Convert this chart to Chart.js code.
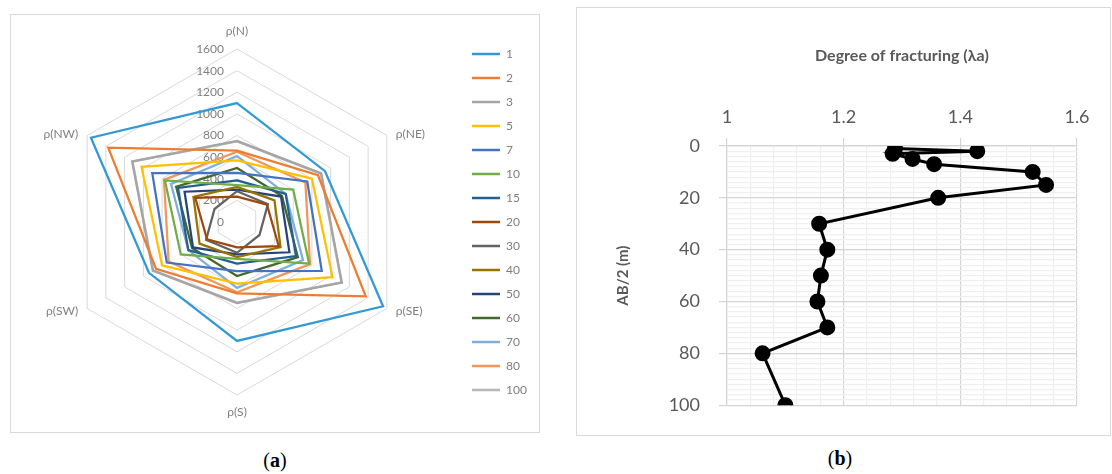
<!DOCTYPE html>
<html>
<head>
<meta charset="utf-8">
<script src="https://cdn.jsdelivr.net/npm/chart.js@4.4.0/dist/chart.umd.min.js"></script>
<style>
    body { margin: 0; width: 1112px; height: 474px; background: #fff; position: relative; overflow: hidden; }
    .panel { position: absolute; box-sizing: border-box; border: 1px solid #d9d9d9; background: #fff; }
    canvas { display: block; position: absolute; }
    .caption { position: absolute; font-family: 'Liberation Serif', serif; font-size: 20px; color: #000; transform: translateX(-50%); }
</style>
</head>
<body>
<div class="panel" style="left:10px; top:14px; width:530px; height:419px;"></div>
<div class="panel" style="left:576px; top:7px; width:535px; height:429px;"></div>
<!-- canvases are transparent, they sit over the panel frames -->
<canvas id="radarChart" width="515" height="446" style="left:15px; top:-1px;"></canvas>
<canvas id="fractureChart" width="533" height="427" style="left:577px; top:8px;"></canvas>
<div class="caption" style="left:275px; top:449px;">(<b>a</b>)</div>
<div class="caption" style="left:840px; top:447px;">(<b>b</b>)</div>

<script>
// Radar axes (azimuth of the measurement)
const directions = ['ρ(N)', 'ρ(NE)', 'ρ(SE)', 'ρ(S)', 'ρ(SW)', 'ρ(NW)'];

// Apparent resistivity per AB/2 spacing, order: N, NE, SE, S, SW, NW
const rho_1 = [1100, 940, 1560, 1100, 940, 1560];
const rho_2 = [660, 865, 1375, 660, 865, 1375];
const rho_3 = [750, 900, 1120, 750, 900, 1120];
const rho_5 = [570, 800, 1020, 570, 800, 1020];
const rho_7 = [455, 750, 905, 455, 750, 905];
const rho_10 = [340, 600, 770, 340, 600, 770];
const rho_15 = [385, 520, 630, 385, 520, 630];
const rho_20 = [235, 320, 445, 235, 320, 445];
const rho_30 = [285, 330, 240, 285, 330, 240];
const rho_40 = [325, 400, 465, 325, 400, 465];
const rho_50 = [300, 470, 560, 300, 470, 560];
const rho_60 = [500, 480, 650, 500, 480, 650];
const rho_70 = [610, 520, 705, 610, 520, 705];
const rho_80 = [650, 730, 780, 650, 730, 780];
const rho_100 = [745, 895, 1115, 745, 895, 1115];

const spacingLabels = ['1', '2', '3', '5', '7', '10', '15', '20', '30', '40', '50', '60', '70', '80', '100'];
const rhoSeries = [rho_1, rho_2, rho_3, rho_5, rho_7, rho_10, rho_15, rho_20, rho_30, rho_40, rho_50, rho_60, rho_70, rho_80, rho_100];
const seriesColors = [
    '#3399d6', '#ed7d31', '#a5a5a5', '#ffc000', '#4472c4', '#70ad47', '#255e91', '#9e480e',
    '#636363', '#997300', '#264478', '#43682b', '#7cafdd', '#f1975a', '#b7b7b7'
];

// Degree of fracturing vs AB/2
const depth = [1, 2, 3, 5, 7, 10, 15, 20, 30, 40, 50, 60, 70, 80, 100];
const lambdaA = [1.288, 1.429, 1.284, 1.318, 1.355, 1.524, 1.547, 1.362, 1.158, 1.172, 1.161, 1.155, 1.172, 1.061, 1.100];

const radarFont = 'Lato, "Open Sans", sans-serif';
const textGray = '#7f7f7f';

// tick values and direction names drawn next to the axes, like the spreadsheet output
const radarText = {
    id: 'radarText',
    beforeDatasetsDraw(chart) {
        const r = chart.scales.r;
        const ctx = chart.ctx;
        ctx.save();
        ctx.font = '12px ' + radarFont;
        ctx.fillStyle = textGray;
        ctx.textBaseline = 'middle';
        ctx.textAlign = 'right';
        r.ticks.forEach(t => {
            const d = r.getDistanceFromCenterForValue(t.value);
            ctx.fillText(String(t.value), r.xCenter - 13, r.yCenter - d);
        });
        chart.data.labels.forEach((lab, i) => {
            const p = r.getPointPosition(i, r.drawingArea);
            let x = p.x, y = p.y;
            if (Math.abs(p.x - r.xCenter) < 1) {
                ctx.textAlign = 'center';
                y += (p.y < r.yCenter) ? -18 : 17;
            } else if (p.x > r.xCenter) {
                ctx.textAlign = 'left';
                x += 9;
                y += (p.y < r.yCenter) ? -1 : 3;
            } else {
                ctx.textAlign = 'right';
                x -= 9;
                y += (p.y < r.yCenter) ? -1 : 3;
            }
            ctx.fillText(lab, x, y);
        });
        ctx.restore();
    }
};

const radarDatasets = rhoSeries.map((vals, i) => ({
    label: spacingLabels[i],
    data: vals,
    borderColor: seriesColors[i],
    backgroundColor: 'transparent',
    borderWidth: 2.25,
    pointRadius: 0,
    pointHoverRadius: 0,
    pointBorderWidth: 2.5,
    pointBorderColor: seriesColors[i],
    fill: false,
}));

new Chart(document.getElementById('radarChart'), {
    type: 'radar',
    data: { labels: directions, datasets: radarDatasets },
    options: {
        responsive: false,
        animation: false,
        layout: { padding: 0 },
        elements: { line: { tension: 0 } },
        scales: {
            r: {
                min: 0,
                max: 1600,
                // labels are drawn by radarText; the empty backdrop only keeps the web at its size
                ticks: {
                    stepSize: 200,
                    color: 'rgba(0,0,0,0)',
                    font: { size: 12 },
                    showLabelBackdrop: true,
                    backdropColor: 'rgba(0,0,0,0)',
                    backdropPadding: 43.5,
                },
                grid: { color: '#d9d9d9', lineWidth: 1 },
                angleLines: { display: false },
                pointLabels: { display: false },
            },
        },
        plugins: {
            legend: {
                position: 'right',
                maxWidth: 70,
                labels: {
                    usePointStyle: true,
                    pointStyle: 'line',
                    pointStyleWidth: 28,
                    padding: 12,
                    color: textGray,
                    font: { size: 12, family: radarFont },
                },
            },
            tooltip: { enabled: false },
        },
    },
    plugins: [radarText],
});

// Degree of fracturing chart
const axisGray = '#595959';
const isMajorX = v => Math.abs(v * 5 - Math.round(v * 5)) < 1e-6;
const isMajorY = v => Math.abs(v % 20) < 1e-6;

new Chart(document.getElementById('fractureChart'), {
    type: 'scatter',
    data: {
        datasets: [{
            data: depth.map((d, i) => ({ x: lambdaA[i], y: d })),
            showLine: true,
            borderColor: '#000',
            backgroundColor: '#000',
            borderWidth: 3,
            pointRadius: 6.5,
            pointBackgroundColor: '#000',
            pointBorderColor: '#000',
        }],
    },
    options: {
        responsive: false,
        animation: false,
        layout: { padding: { left: 0, right: 33, top: 0, bottom: 29 } },
        scales: {
            x: {
                type: 'linear',
                position: 'top',
                min: 1,
                max: 1.6,
                afterFit: scale => { scale.height = 138; },
                ticks: {
                    stepSize: 0.04,
                    autoSkip: false,
                    maxRotation: 0,
                    padding: 10,
                    color: axisGray,
                    font: { size: 18, family: radarFont },
                    callback: v => isMajorX(v) ? String(Math.round(v * 10) / 10) : '',
                },
                grid: {
                    color: c => isMajorX(c.tick.value) ? '#d4d4d4' : '#efefef',
                    tickColor: c => isMajorX(c.tick.value) ? '#d4d4d4' : 'rgba(0,0,0,0)',
                    tickLength: 8,
                    lineWidth: 1.2,
                },
                border: { color: '#d4d4d4', width: 1.2 },
                title: {
                    display: true,
                    text: 'Degree of fracturing (λa)',
                    color: axisGray,
                    font: { size: 16, weight: 'bold', family: radarFont },
                    padding: { top: 38, bottom: 0 },
                },
            },
            y: {
                reverse: true,
                min: 0,
                max: 100,
                afterFit: scale => { scale.width = 150; },
                ticks: {
                    stepSize: 2,
                    autoSkip: false,
                    padding: 19,
                    color: axisGray,
                    font: { size: 18, family: radarFont },
                    callback: v => isMajorY(v) ? String(v) : '',
                },
                grid: {
                    color: c => isMajorY(c.tick.value) ? '#d4d4d4' : '#efefef',
                    tickColor: c => isMajorY(c.tick.value) ? '#d4d4d4' : 'rgba(0,0,0,0)',
                    tickLength: 8,
                    lineWidth: 1.2,
                },
                border: { color: '#d4d4d4', width: 1.2 },
                title: {
                    display: true,
                    text: 'AB/2 (m)',
                    color: axisGray,
                    font: { size: 15, weight: 'bold', family: radarFont },
                    padding: { top: 37, bottom: 0 },
                },
            },
        },
        plugins: {
            legend: { display: false },
            tooltip: { enabled: false },
        },
    },
});
</script>
</body>
</html>
